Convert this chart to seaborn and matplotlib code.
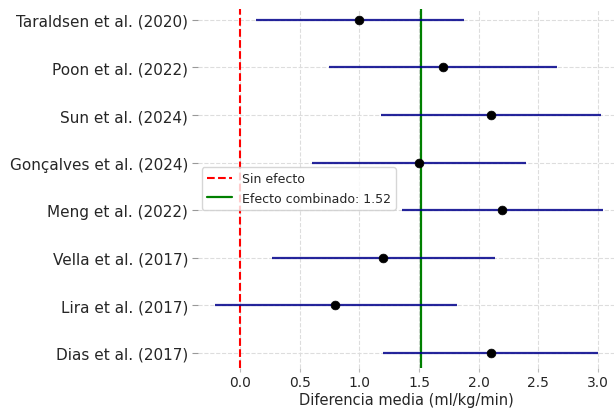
import numpy as np
import pandas as pd
import seaborn as sns
import matplotlib
matplotlib.use("Agg")
import matplotlib.pyplot as plt

studies = ['Taraldsen et al. (2020)', 'Poon et al. (2022)', 'Sun et al. (2024)',
           'Gonçalves et al. (2024)', 'Meng et al. (2022)', 'Vella et al. (2017)',
           'Lira et al. (2017)', 'Dias et al. (2017)']
means = [1.00, 1.70, 2.10, 1.50, 2.20, 1.20, 0.80, 2.10]
ci_low = [0.13, 0.75, 1.18, 0.60, 1.36, 0.27, -0.21, 1.20]
ci_high = [1.88, 2.66, 3.03, 2.40, 3.04, 2.14, 1.82, 3.00]
pooled = 1.52

df = pd.DataFrame({'Estudio': studies, 'Media': means, 'Inf': ci_low, 'Sup': ci_high})

sns.set_style("whitegrid")
fig = plt.figure(figsize=(6.14, 4.10), dpi=100)
ax = fig.add_axes([198 / 614, 1 - 369 / 410, 1 - 198 / 614, 359 / 410])

ypos = np.arange(len(studies))
ax.hlines(ypos, df['Inf'], df['Sup'], color='darkblue', linewidth=1.6, alpha=0.85, zorder=2)
sns.scatterplot(x=df['Media'], y=ypos, color='black', s=40, edgecolor='black',
                zorder=3, ax=ax, legend=False)

ax.axvline(0, color='red', linestyle='--', linewidth=1.5, label='Sin efecto', zorder=1)
ax.axvline(pooled, color='green', linewidth=1.6, label=f'Efecto combinado: {pooled:.2f}', zorder=1)

ax.set_yticks(ypos)
ax.set_yticklabels(studies, fontsize=11)
ax.set_ylim(len(studies) - 1 + 0.32, -0.23)
ax.set_xlim(-0.352, 3.135)
ax.set_xticks([0.0, 0.5, 1.0, 1.5, 2.0, 2.5, 3.0])
ax.tick_params(axis='x', labelsize=10, bottom=True, length=3, color='#bbbbbb', pad=2)
ax.tick_params(axis='y', left=True, length=4, color='#999999', pad=3)
ax.set_xlabel('Diferencia media (ml/kg/min)', fontsize=10.5, labelpad=2)
ax.set_ylabel('')
ax.grid(True, linestyle='--', color='#dddddd', linewidth=0.8)
sns.despine(ax=ax, left=True, bottom=True)
ax.legend(loc='center left', fontsize=9, borderaxespad=0.3)

fig.savefig('out.png', dpi=100)
